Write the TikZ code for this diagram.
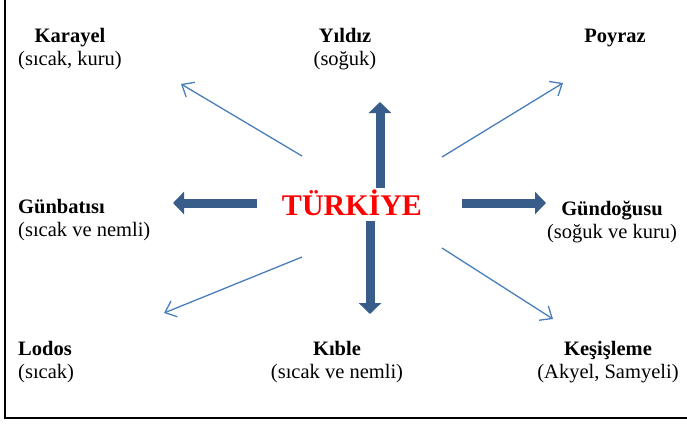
\documentclass[tikz,border=0pt]{standalone}
\usepackage{fontspec}
\setmainfont{Liberation Serif}
\usetikzlibrary{arrows.meta}
\definecolor{blockblue}{RGB}{56,93,138}
\definecolor{lineblue}{RGB}{74,126,187}
\begin{document}
\begin{tikzpicture}[x=1pt, y=-1pt,
    wind/.style={font=\fontsize{20.5}{23}\selectfont, inner sep=0pt, align=center, anchor=base},
    windleft/.style={wind, align=left, anchor=base west},
    country/.style={font=\fontsize{30}{34}\selectfont\bfseries, text=red, inner sep=0pt, anchor=base},
    fat/.style={draw=blockblue, line width=9pt, -{Triangle[width=22pt, length=11pt]}},
    thin/.style={draw=lineblue, line width=1.3pt, -{Straight Barb[width=17pt, length=10pt]}},
    frame/.style={draw=black, line width=2.5pt},
  ]
    \useasboundingbox (0,0) rectangle (687,423);
    \draw[frame] (5,0) -- (5,418) -- (687,418);

    % centre
    \node[country] (tr) at (352,215) {TÜRKİYE};

    % winds (base = last line)
    \node[wind] (karayel) at (70,65) {\textbf{Karayel}\\(sıcak, kuru)};
    \node[wind] (yildiz) at (345,65) {\textbf{Yıldız}\\(soğuk)};
    \node[wind] (poyraz) at (615,42) {\textbf{Poyraz}};
    \node[windleft] (gunbatisi) at (18,236) {\textbf{Günbatısı}\\(sıcak ve nemli)};
    \node[wind] (gundogusu) at (612,238) {\textbf{Gündoğusu}\\(soğuk ve kuru)};
    \node[windleft] (lodos) at (18,378) {\textbf{Lodos}\\(sıcak)};
    \node[wind] (kible) at (337,378) {\textbf{Kıble}\\(sıcak ve nemli)};
    \node[wind] (kesisleme) at (608,378) {\textbf{Keşişleme}\\(Akyel, Samyeli)};

    % arrow ends
    \coordinate (n0) at (380,188);  \coordinate (n1) at (380,102);
    \coordinate (s0) at (370,221);  \coordinate (s1) at (370,314);
    \coordinate (w0) at (257,203);  \coordinate (w1) at (173,203);
    \coordinate (e0) at (462,203);  \coordinate (e1) at (546,203);
    \coordinate (nw0) at (302,156); \coordinate (nw1) at (181,84);
    \coordinate (ne0) at (442,157); \coordinate (ne1) at (563,83);
    \coordinate (sw0) at (302,257); \coordinate (sw1) at (164,313);
    \coordinate (se0) at (442,248); \coordinate (se1) at (553,319);

    \draw[fat] (n0) -- (n1);
    \draw[fat] (s0) -- (s1);
    \draw[fat] (w0) -- (w1);
    \draw[fat] (e0) -- (e1);
    \draw[thin] (nw0) -- (nw1);
    \draw[thin] (ne0) -- (ne1);
    \draw[thin] (sw0) -- (sw1);
    \draw[thin] (se0) -- (se1);
  \end{tikzpicture}
\end{document}
